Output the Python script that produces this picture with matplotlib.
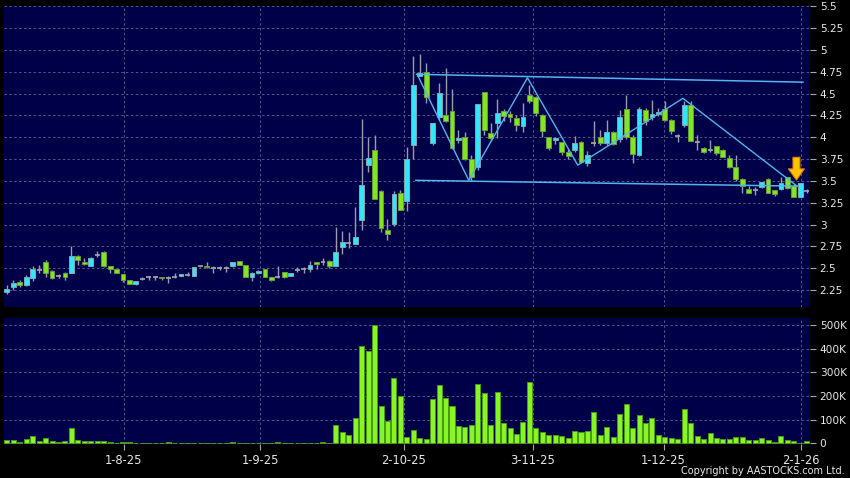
# Daily candlesticks + volume (AASTOCKS style)

import numpy as np
import matplotlib.pyplot as plt

# INPUT: values, one entry per trading day

opens = [2.23, 2.28, 2.34, 2.31, 2.39, 2.48, 2.57, 2.47, 2.41, 2.44,
         2.44, 2.64, 2.57, 2.53, 2.65, 2.69, 2.53, 2.49, 2.43, 2.37,
         2.32, 2.38, 2.40, 2.40, 2.40, 2.39, 2.40, 2.41, 2.42, 2.41,
         2.52, 2.53, 2.50, 2.50, 2.50, 2.52, 2.58, 2.54, 2.40, 2.44,
         2.49, 2.40, 2.40, 2.46, 2.41, 2.48, 2.49, 2.49, 2.57, 2.57,
         2.58, 2.52, 2.74, 2.79, 2.78, 3.05, 3.68, 3.85, 3.38, 2.94,
         3.01, 3.36, 3.27, 3.91, 4.70, 4.75, 3.93, 4.23, 4.25, 4.30,
         3.97, 4.00, 3.75, 3.66, 4.52, 4.05, 4.16, 4.30, 4.27, 4.22,
         4.13, 4.48, 4.46, 4.25, 4.00, 3.97, 3.94, 3.83, 3.85, 3.94,
         3.70, 3.93, 4.00, 3.93, 4.06, 3.98, 4.32, 4.00, 3.80, 4.31,
         4.23, 4.27, 4.32, 4.20, 4.01, 4.14, 4.37, 3.95, 3.88, 3.85,
         3.90, 3.85, 3.76, 3.66, 3.52, 3.41, 3.39, 3.43, 3.52, 3.39,
         3.41, 3.54, 3.44, 3.32, 3.38]
highs = [2.31, 2.36, 2.36, 2.42, 2.52, 2.54, 2.59, 2.48, 2.43, 2.46,
         2.76, 2.65, 2.62, 2.63, 2.70, 2.70, 2.53, 2.49, 2.43, 2.37,
         2.35, 2.40, 2.41, 2.41, 2.40, 2.41, 2.44, 2.43, 2.46, 2.51,
         2.53, 2.57, 2.52, 2.52, 2.52, 2.57, 2.58, 2.54, 2.46, 2.48,
         2.49, 2.40, 2.52, 2.46, 2.45, 2.51, 2.51, 2.58, 2.57, 2.62,
         2.59, 2.97, 2.93, 2.91, 3.20, 4.21, 4.00, 4.03, 3.40, 3.06,
         3.38, 3.40, 3.89, 4.93, 4.95, 4.85, 4.16, 4.62, 4.79, 4.55,
         4.08, 4.06, 3.80, 4.38, 4.52, 4.16, 4.44, 4.32, 4.30, 4.25,
         4.39, 4.60, 4.47, 4.26, 4.00, 4.00, 3.95, 3.87, 4.01, 3.96,
         3.84, 4.18, 4.08, 4.20, 4.07, 4.31, 4.48, 4.02, 4.34, 4.33,
         4.43, 4.33, 4.42, 4.21, 4.04, 4.41, 4.42, 4.02, 3.89, 3.97,
         3.90, 3.86, 3.80, 3.80, 3.53, 3.44, 3.43, 3.49, 3.53, 3.40,
         3.55, 3.55, 3.46, 3.47, 3.41]
lows = [2.20, 2.25, 2.29, 2.30, 2.35, 2.44, 2.40, 2.38, 2.39, 2.36,
        2.44, 2.54, 2.54, 2.52, 2.63, 2.51, 2.44, 2.44, 2.34, 2.32,
        2.31, 2.36, 2.37, 2.37, 2.37, 2.33, 2.39, 2.41, 2.41, 2.41,
        2.51, 2.50, 2.44, 2.48, 2.46, 2.51, 2.54, 2.40, 2.35, 2.43,
        2.40, 2.35, 2.39, 2.39, 2.41, 2.46, 2.44, 2.46, 2.49, 2.54,
        2.50, 2.52, 2.66, 2.73, 2.78, 2.94, 3.60, 3.29, 2.91, 2.82,
        2.98, 3.17, 3.15, 3.75, 4.70, 4.39, 3.91, 4.20, 4.17, 3.86,
        3.93, 3.74, 3.50, 3.62, 4.02, 3.96, 3.99, 4.18, 4.17, 4.07,
        4.06, 4.39, 4.24, 4.00, 3.85, 3.92, 3.80, 3.75, 3.83, 3.70,
        3.67, 3.90, 3.91, 3.91, 3.91, 3.95, 3.98, 3.70, 3.78, 4.14,
        4.20, 4.24, 4.18, 4.04, 3.95, 4.12, 3.96, 3.85, 3.82, 3.83,
        3.80, 3.77, 3.65, 3.50, 3.36, 3.36, 3.34, 3.42, 3.36, 3.33,
        3.40, 3.41, 3.31, 3.31, 3.36]
closes = [2.26, 2.33, 2.31, 2.40, 2.49, 2.48, 2.44, 2.39, 2.41, 2.40,
          2.64, 2.59, 2.55, 2.62, 2.65, 2.52, 2.49, 2.44, 2.37, 2.32,
          2.35, 2.38, 2.40, 2.40, 2.39, 2.39, 2.40, 2.43, 2.42, 2.51,
          2.52, 2.51, 2.50, 2.50, 2.50, 2.57, 2.54, 2.40, 2.44, 2.47,
          2.40, 2.37, 2.40, 2.40, 2.45, 2.48, 2.49, 2.54, 2.55, 2.57,
          2.52, 2.69, 2.80, 2.79, 2.86, 3.45, 3.76, 3.29, 2.96, 2.89,
          3.35, 3.17, 3.75, 4.60, 4.73, 4.46, 4.16, 4.51, 4.19, 3.88,
          3.99, 3.75, 3.54, 4.38, 4.08, 3.99, 4.28, 4.24, 4.23, 4.14,
          4.23, 4.41, 4.28, 4.07, 3.88, 3.99, 3.83, 3.79, 3.93, 3.72,
          3.80, 3.93, 3.93, 4.06, 3.92, 4.23, 4.00, 3.81, 4.32, 4.19,
          4.26, 4.29, 4.20, 4.07, 4.01, 4.37, 3.96, 3.95, 3.83, 3.87,
          3.82, 3.77, 3.66, 3.52, 3.44, 3.36, 3.39, 3.49, 3.36, 3.35,
          3.48, 3.42, 3.32, 3.47, 3.38]
# volume in thousands of shares
volume = [12, 15, 7, 17, 31, 11, 22, 11, 6, 8,
          65, 13, 8, 8, 10, 10, 6, 3, 7, 4,
          1, 1, 1, 1, 2, 4, 1, 3, 3, 3,
          3, 3, 3, 1, 1, 4, 0.5, 3, 3, 1,
          1, 3, 4, 1, 0.5, 3, 0.5, 3, 0.5, 4,
          1, 77, 48, 37, 107, 411, 392, 500, 156, 93,
          277, 200, 28, 56, 24, 18, 187, 246, 190, 159,
          73, 70, 79, 251, 214, 77, 215, 85, 63, 39,
          89, 261, 66, 46, 37, 35, 31, 24, 51, 46,
          51, 131, 37, 70, 25, 124, 165, 63, 118, 86,
          107, 34, 25, 24, 18, 144, 85, 31, 20, 42,
          21, 17, 17, 25, 28, 14, 14, 21, 14, 6,
          31, 14, 10, 3, 10]

date_labels = ['1-8-25', '1-9-25', '2-10-25', '3-11-25', '1-12-25', '2-1-26']
date_pos = [18.1, 39.3, 61.5, 81.5, 101.8, 123.1]

price_ticks = np.arange(2.25, 5.51, 0.25)
vol_ticks = [0, 100, 200, 300, 400, 500]
vol_labels = ['0', '100K', '200K', '300K', '400K', '500K']

# hand drawn trend lines (day index, price)
top_x = [63.5, 123.4]
top_y = [4.72, 4.63]
bottom_x = [63.4, 122.5]
bottom_y = [3.506, 3.44]
zig_x = [63.6, 71.6, 80.7, 88.5, 104.8, 122.5]
zig_y = [4.72, 3.506, 4.68, 3.68, 4.445, 3.44]

# PROCESS
o = np.array(opens)
h = np.array(highs)
l = np.array(lows)
c = np.array(closes)
v = np.array(volume)
x = np.arange(len(c))

up = c > o + 0.005
down = c < o - 0.005
flat = ~(up | down)

navy = '#000048'
grid_col = '#56568a'
txt_col = '#e8e8e8'

fig = plt.figure(figsize=(8.5, 4.78), dpi=100, facecolor='black')
ax = fig.add_axes([4/850, 1-307/478, 806/850, 301/478])
axv = fig.add_axes([4/850, 1-444/478, 806/850, 126/478])

for a in (ax, axv):
    a.set_facecolor(navy)
    for s in a.spines.values():
        s.set_visible(False)
    a.set_xlim(-0.45, 124.5)
    a.set_xticks(date_pos)
    a.grid(True, color=grid_col, linestyle=(0, (2.5, 2.5)), linewidth=0.7)
    a.set_axisbelow(True)
    a.yaxis.tick_right()
    a.tick_params(axis='y', colors='#aaaaaa', labelcolor=txt_col,
                  labelsize=7.6, length=4, pad=3, direction='out')

# price panel
ax.set_ylim(2.056, 5.502)
ax.set_yticks(price_ticks)
ax.set_yticklabels(['%g' % t for t in price_ticks])
ax.tick_params(axis='x', length=0, labelbottom=False)

ax.vlines(x, l, h, color='#9c9cae', linewidth=1, zorder=2)
ax.bar(x[up], c[up] - o[up], bottom=o[up], width=0.75,
       color='#33e6f5', edgecolor='#7aa8b8', linewidth=0.7, zorder=3)
ax.bar(x[down], o[down] - c[down], bottom=c[down], width=0.75,
       color='#80e620', edgecolor='#6a9a3a', linewidth=0.7, zorder=3)
ax.hlines(c[flat], x[flat] - 0.38, x[flat] + 0.38, color='#a8a8b0',
          linewidth=1.2, zorder=3)

ax.plot(top_x, top_y, color='#55b4f0', linewidth=1.1, zorder=4)
ax.plot(bottom_x, bottom_y, color='#55b4f0', linewidth=1.1, zorder=4)
ax.plot(zig_x, zig_y, color='#55b4f0', linewidth=1.0, zorder=4)

# orange arrow on the last days
ax.annotate('', xy=(122.4, 3.51), xytext=(122.4, 3.77),
            arrowprops=dict(arrowstyle='simple,head_length=0.8,head_width=1.15,tail_width=0.5',
                            fc='#ffc400', ec='#e08000', lw=0.8,
                            shrinkA=0, shrinkB=0), zorder=5)

# volume panel
axv.set_ylim(-3, 530)
axv.set_yticks(vol_ticks)
axv.set_yticklabels(vol_labels)
axv.set_xticklabels(date_labels)
axv.tick_params(axis='x', colors='#aaaaaa', labelcolor=txt_col,
                labelsize=8.3, length=4, pad=3, direction='out')
axv.bar(x, v, width=0.78, color='#88f526', edgecolor='#4a9a18',
        linewidth=0.7, zorder=3)

fig.text(845/850, 1-471/478, 'Copyright by AASTOCKS.com Ltd.', color=txt_col,
         fontsize=7, ha='right', va='center')

fig.savefig('out.png', dpi=100, facecolor='black')
